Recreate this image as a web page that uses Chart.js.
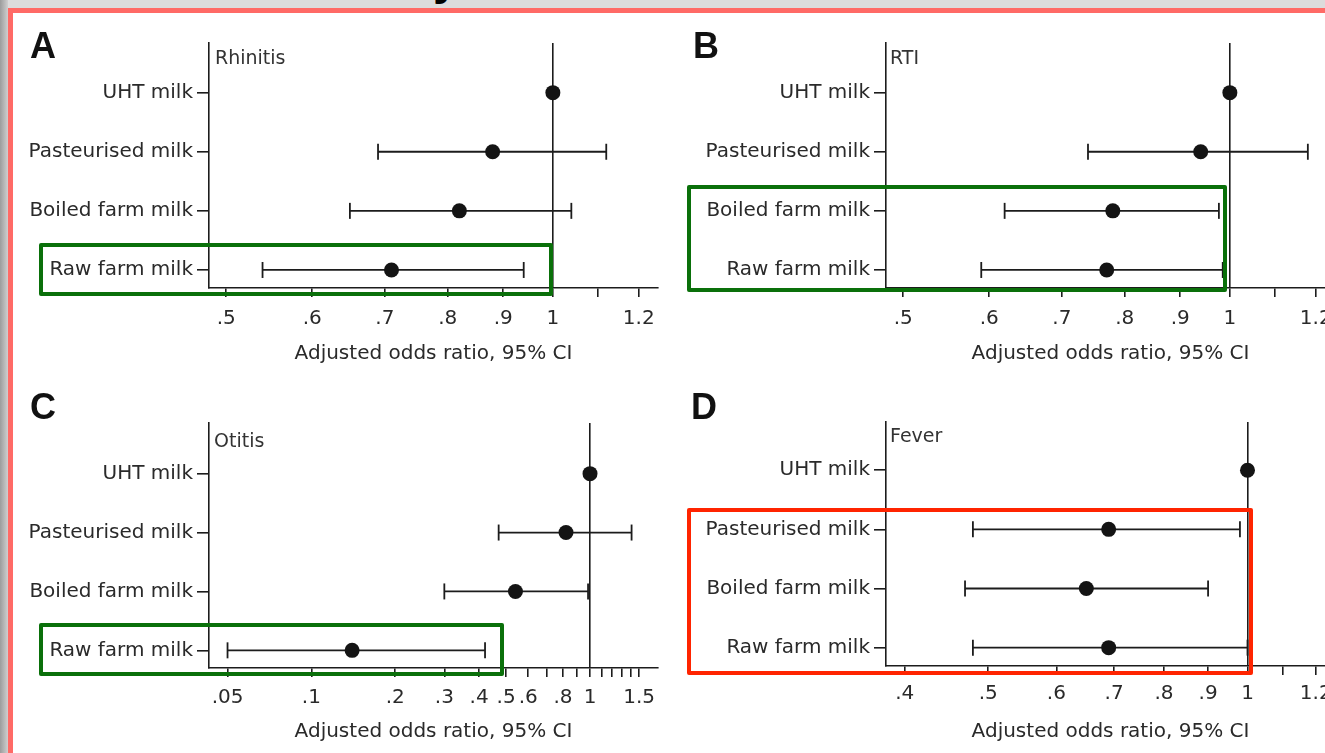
<!DOCTYPE html>
<html><head><meta charset="utf-8">
<script src="https://cdn.jsdelivr.net/npm/chart.js@4.4.1/dist/chart.umd.min.js"></script>
<style>
html,body{margin:0;padding:0;width:1325px;height:753px;overflow:hidden;background:#dcdcdc;}
#leftgrad{position:absolute;left:0;top:0;width:8px;height:753px;background:linear-gradient(to right,#9c9c9c,#cfcfcf);}
#frame{position:absolute;left:8px;top:8px;width:1400px;height:800px;background:#fff;border-left:5px solid #ff6a66;border-top:5px solid #ff6a66;box-sizing:border-box;}
#blob{position:absolute;left:425px;top:0;width:40px;height:7px;overflow:hidden;}
#blob span{position:absolute;left:8px;top:-46px;font:bold 48px/48px "Liberation Sans",Arial,sans-serif;color:#000;}
canvas{position:absolute;}
.letter{position:absolute;font:bold 36px/36px "Liberation Sans",Arial,sans-serif;color:#111;z-index:4;}
.sub{position:absolute;font:19px/19px "DejaVu Sans",sans-serif;color:#333;z-index:4;}
.box{position:absolute;box-sizing:border-box;border:4px solid #0a700a;border-radius:2px;z-index:5;}
.box.red{border-color:#ff2400;}
</style></head><body>
<div id="leftgrad"></div>
<div id="frame"></div>
<div id="blob"><span>y</span></div>
<canvas id="cA" width="660" height="375" style="left:0;top:0"></canvas>
<canvas id="cB" width="680" height="375" style="left:660px;top:0"></canvas>
<canvas id="cC" width="660" height="373" style="left:0;top:380px"></canvas>
<canvas id="cD" width="680" height="373" style="left:660px;top:380px"></canvas>
<div class="letter" style="left:30px;top:28px">A</div>
<div class="letter" style="left:693px;top:28px">B</div>
<div class="letter" style="left:30px;top:389px">C</div>
<div class="letter" style="left:691px;top:389px">D</div>
<div class="sub" style="left:215px;top:48px">Rhinitis</div>
<div class="sub" style="left:890px;top:48px">RTI</div>
<div class="sub" style="left:214px;top:431px">Otitis</div>
<div class="sub" style="left:890px;top:426px">Fever</div>
<div class="box" style="left:39px;top:243px;width:514px;height:53px"></div>
<div class="box" style="left:687px;top:185px;width:540px;height:107px"></div>
<div class="box" style="left:39px;top:623px;width:465px;height:53px"></div>
<div class="box red" style="left:687px;top:508px;width:566px;height:167px"></div>
<script>
const categories = ['UHT milk', 'Pasteurised milk', 'Boiled farm milk', 'Raw farm milk'];
const axisTitle = 'Adjusted odds ratio, 95% CI';

const rhinitisOR = [1, 0.88, 0.82, 0.71];
const rhinitisLo = [null, 0.69, 0.65, 0.54];
const rhinitisHi = [null, 1.12, 1.04, 0.94];

const rtiOR = [1, 0.94, 0.78, 0.77];
const rtiLo = [null, 0.74, 0.62, 0.59];
const rtiHi = [null, 1.18, 0.977, 0.985];

const otitisOR = [1, 0.82, 0.54, 0.14];
const otitisLo = [null, 0.47, 0.30, 0.05];
const otitisHi = [null, 1.41, 0.984, 0.42];

const feverOR = [1, 0.69, 0.65, 0.69];
const feverLo = [null, 0.48, 0.47, 0.48];
const feverHi = [null, 0.98, 0.90, 1.0];

const ticksAB = [0.5, 0.6, 0.7, 0.8, 0.9, 1, 1.1, 1.2];
const labelsAB = ['.5', '.6', '.7', '.8', '.9', '1', '', '1.2'];
const ticksC = [0.05, 0.1, 0.2, 0.3, 0.4, 0.5, 0.6, 0.7, 0.8, 0.9, 1, 1.1, 1.2, 1.3, 1.4, 1.5];
const labelsC = ['.05', '.1', '.2', '.3', '.4', '.5', '.6', '', '.8', '', '1', '', '', '', '', '1.5'];
const ticksD = [0.4, 0.5, 0.6, 0.7, 0.8, 0.9, 1, 1.1, 1.2];
const labelsD = ['.4', '.5', '.6', '.7', '.8', '.9', '1', '', '1.2'];

Chart.defaults.font.family = '"DejaVu Sans", sans-serif';
const INK = '#1c1c1c';

function panel(id, or, lo, hi, xMin, xMax, ticks, tickLabels, yMin, yMax, g) {
  const datasets = [{
    type: 'scatter',
    data: or.map((v, i) => ({x: v, y: i})),
    pointRadius: 7.5, pointBackgroundColor: '#141414', pointBorderColor: '#141414', pointBorderWidth: 0,
    showLine: false, order: 0, clip: false
  }];
  lo.forEach((l, i) => {
    if (l == null) return;
    datasets.push({
      type: 'line',
      data: [{x: l, y: i}, {x: hi[i], y: i}],
      borderColor: INK, borderWidth: 1.8, fill: false,
      pointStyle: 'line', rotation: 90, pointRadius: 8,
      pointBorderColor: INK, pointBorderWidth: 1.8, order: 1, clip: false
    });
  });
  const noPad = s => { s.paddingLeft = 0; s.paddingRight = 0; s.paddingTop = 0; s.paddingBottom = 0; };
  new Chart(document.getElementById(id), {
    type: 'scatter',
    data: {datasets},
    options: {
      responsive: false, animation: false, events: [],
      layout: {autoPadding: false, padding: {top: g.top, right: g.right, left: 0, bottom: 0}},
      plugins: {legend: {display: false}, tooltip: {enabled: false}},
      scales: {
        x: {
          type: 'logarithmic', min: xMin, max: xMax, position: 'bottom',
          afterBuildTicks: s => { s.ticks = ticks.map(v => ({value: v})); },
          afterFit: s => { s.height = g.xh; noPad(s); },
          ticks: {autoSkip: false, maxRotation: 0, minRotation: 0, padding: g.tp, color: '#2a2a2a',
                  font: {size: 20}, callback: (v, i) => tickLabels[i]},
          grid: {drawOnChartArea: true,
                 color: c => (c.tick && Math.abs(c.tick.value - 1) < 1e-9) ? INK : 'rgba(0,0,0,0)',
                 lineWidth: 1.6, tickColor: INK, tickLength: 9, tickWidth: 1.6},
          border: {display: true, color: INK, width: 1.6},
          title: {display: true, text: axisTitle, color: '#2a2a2a', font: {size: 20, lineHeight: 1.2},
                  padding: {top: 0, bottom: g.titlePad}}
        },
        y: {
          type: 'linear', reverse: true, min: yMin, max: yMax,
          afterBuildTicks: s => { s.ticks = categories.map((c, i) => ({value: i})); },
          afterFit: s => { s.width = g.yw; noPad(s); },
          ticks: {autoSkip: false, padding: 4, color: '#2a2a2a', font: {size: 20},
                  callback: v => categories[v]},
          grid: {drawOnChartArea: false, color: INK, lineWidth: 1.6, tickLength: 12},
          border: {display: true, color: INK, width: 1.6}
        }
      }
    }
  });
}

panel('cA', rhinitisOR, rhinitisLo, rhinitisHi, 0.482, 1.25, ticksAB, labelsAB, -0.84, 3.305,
      {top: 43, right: 2, yw: 209, xh: 87, tp: 10, titlePad: 9});
panel('cB', rtiOR, rtiLo, rtiHi, 0.482, 1.25, ticksAB, labelsAB, -0.84, 3.305,
      {top: 43, right: 5, yw: 226, xh: 87, tp: 10, titlePad: 9});
panel('cC', otitisOR, otitisLo, otitisHi, 0.0429, 1.754, ticksC, labelsC, -0.86, 3.30,
      {top: 43, right: 2, yw: 209, xh: 85, tp: 8.5, titlePad: 9.5});
panel('cD', feverOR, feverLo, feverHi, 0.3805, 1.2635, ticksD, labelsD, -0.815, 3.31,
      {top: 42, right: 5, yw: 226, xh: 87, tp: 6.5, titlePad: 9});
</script>
</body></html>
